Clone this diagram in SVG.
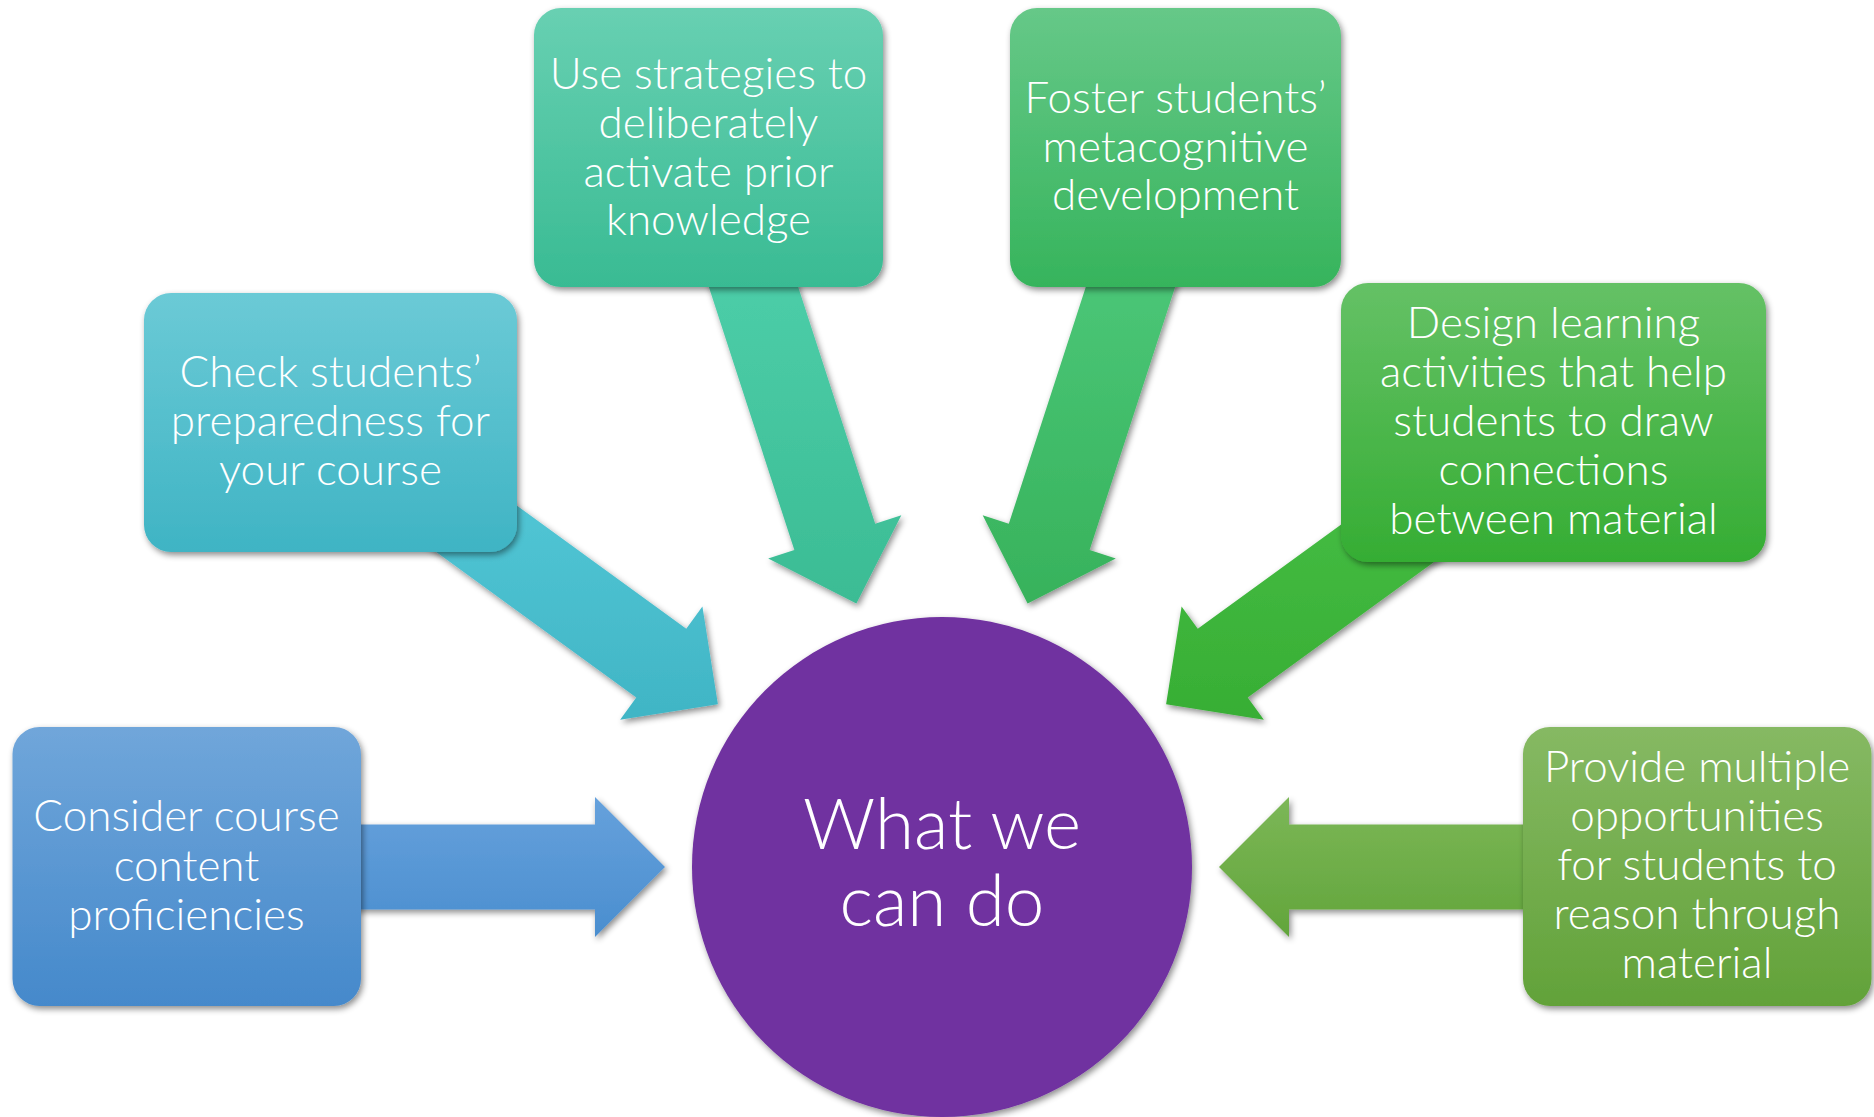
<svg xmlns="http://www.w3.org/2000/svg" width="1874" height="1117" viewBox="0 0 1874 1117">
  <defs>
    <filter id="shadow" x="-10%" y="-10%" width="125%" height="125%">
      <feDropShadow dx="2" dy="3" stdDeviation="3" flood-color="#000" flood-opacity="0.45"/>
    </filter>
    <!-- box fills -->
    <linearGradient id="g1" x1="0" y1="0" x2="0" y2="1"><stop offset="0" stop-color="#70a6da"/><stop offset="1" stop-color="#4589cb"/></linearGradient>
    <linearGradient id="g2" x1="0" y1="0" x2="0" y2="1"><stop offset="0" stop-color="#6bcad6"/><stop offset="1" stop-color="#3fb4c4"/></linearGradient>
    <linearGradient id="g3" x1="0" y1="0" x2="0" y2="1"><stop offset="0" stop-color="#68d0b2"/><stop offset="1" stop-color="#39bb93"/></linearGradient>
    <linearGradient id="g4" x1="0" y1="0" x2="0" y2="1"><stop offset="0" stop-color="#66c888"/><stop offset="1" stop-color="#36b45c"/></linearGradient>
    <linearGradient id="g5" x1="0" y1="0" x2="0" y2="1"><stop offset="0" stop-color="#65c166"/><stop offset="1" stop-color="#35ad33"/></linearGradient>
    <linearGradient id="g6" x1="0" y1="0" x2="0" y2="1"><stop offset="0" stop-color="#86b963"/><stop offset="1" stop-color="#62a239"/></linearGradient>
    <!-- arrow fills -->
    <linearGradient id="a1" x1="0" y1="0" x2="0" y2="1"><stop offset="0" stop-color="#66a1dc"/><stop offset="1" stop-color="#4a8ecf"/></linearGradient>
    <linearGradient id="a2" x1="0" y1="0" x2="0" y2="1"><stop offset="0" stop-color="#54c8d7"/><stop offset="1" stop-color="#40b5c5"/></linearGradient>
    <linearGradient id="a3" x1="0" y1="0" x2="0" y2="1"><stop offset="0" stop-color="#4fd0ab"/><stop offset="1" stop-color="#3bbc94"/></linearGradient>
    <linearGradient id="a4" x1="0" y1="0" x2="0" y2="1"><stop offset="0" stop-color="#4dc97b"/><stop offset="1" stop-color="#37b25b"/></linearGradient>
    <linearGradient id="a5" x1="0" y1="0" x2="0" y2="1"><stop offset="0" stop-color="#47be45"/><stop offset="1" stop-color="#37ae34"/></linearGradient>
    <linearGradient id="a6" x1="0" y1="0" x2="0" y2="1"><stop offset="0" stop-color="#7cb757"/><stop offset="1" stop-color="#62a53b"/></linearGradient>
    <style>
      .box { filter: url(#shadow); }
      .arrow { filter: url(#shadow); }
      .label { font-family: "Lato", "Liberation Sans", sans-serif; font-weight: 300; font-size: 44px; fill: #ffffff; text-anchor: middle; }
      .hub { font-family: "Lato", "Liberation Sans", sans-serif; font-weight: 300; font-size: 71px; fill: #ffffff; text-anchor: middle; }
    </style>
  </defs>

  <rect width="1874" height="1117" fill="#ffffff"/>

  <!-- block arrows, all pointing at the hub -->
  <g id="connectors">
    <path class="arrow" fill="url(#a1)" d="M665,867 L595,797 L595,824.5 L305,824.5 L305,909.5 L595,909.5 L595,937 Z"/>
    <path class="arrow" fill="url(#a2)" d="M717.90,704.18 L702.41,606.41 L686.25,628.66 L459.72,464.08 L409.76,532.84 L636.29,697.42 L620.13,719.67 Z"/>
    <path class="arrow" fill="url(#a3)" d="M856.40,603.56 L901.34,515.36 L875.19,523.86 L779.39,229.03 L698.55,255.29 L794.35,550.12 L768.20,558.62 Z"/>
    <path class="arrow" fill="url(#a4)" d="M1027.60,603.56 L982.66,515.36 L1008.81,523.86 L1104.61,229.03 L1185.45,255.29 L1089.65,550.12 L1115.80,558.62 Z"/>
    <path class="arrow" fill="url(#a5)" d="M1166.10,704.18 L1181.59,606.41 L1197.75,628.66 L1424.28,464.08 L1474.24,532.84 L1247.71,697.42 L1263.87,719.67 Z"/>
    <path class="arrow" fill="url(#a6)" d="M1219,867 L1289,797 L1289,824.5 L1579,824.5 L1579,909.5 L1289,909.5 L1289,937 Z"/>
  </g>

  <g id="hub">
    <circle class="box" cx="942" cy="867" r="250" fill="#7030a0"/>
    <text class="hub" x="942" y="849">What we</text>
    <text class="hub" x="942" y="926">can do</text>
  </g>

  <g id="node-consider">
    <rect class="box" x="12.5" y="727" width="348.5" height="279" rx="27" fill="url(#g1)"/>
    <text class="label" x="186.5" y="831">Consider course</text>
    <text class="label" x="186.5" y="881">content</text>
    <text class="label" x="186.5" y="930">proficiencies</text>
  </g>

  <g id="node-check">
    <rect class="box" x="144" y="293" width="373" height="259" rx="27" fill="url(#g2)"/>
    <text class="label" x="330.5" y="387">Check students’</text>
    <text class="label" x="330.5" y="436">preparedness for</text>
    <text class="label" x="330.5" y="485">your course</text>
  </g>

  <g id="node-strategies">
    <rect class="box" x="534" y="8" width="349" height="279" rx="27" fill="url(#g3)"/>
    <text class="label" x="708.5" y="89">Use strategies to</text>
    <text class="label" x="708.5" y="138">deliberately</text>
    <text class="label" x="708.5" y="187">activate prior</text>
    <text class="label" x="708.5" y="235">knowledge</text>
  </g>

  <g id="node-foster">
    <rect class="box" x="1010" y="8" width="331" height="279" rx="27" fill="url(#g4)"/>
    <text class="label" x="1175.5" y="113">Foster students’</text>
    <text class="label" x="1175.5" y="162">metacognitive</text>
    <text class="label" x="1175.5" y="210">development</text>
  </g>

  <g id="node-design">
    <rect class="box" x="1341" y="283" width="425" height="279" rx="27" fill="url(#g5)"/>
    <text class="label" x="1553.5" y="338">Design learning</text>
    <text class="label" x="1553.5" y="387">activities that help</text>
    <text class="label" x="1553.5" y="436">students to draw</text>
    <text class="label" x="1553.5" y="485">connections</text>
    <text class="label" x="1553.5" y="534">between material</text>
  </g>

  <g id="node-provide">
    <rect class="box" x="1523" y="727" width="348.5" height="279" rx="27" fill="url(#g6)"/>
    <text class="label" x="1697" y="782">Provide multiple</text>
    <text class="label" x="1697" y="831">opportunities</text>
    <text class="label" x="1697" y="880">for students to</text>
    <text class="label" x="1697" y="929">reason through</text>
    <text class="label" x="1697" y="978">material</text>
  </g>
</svg>
